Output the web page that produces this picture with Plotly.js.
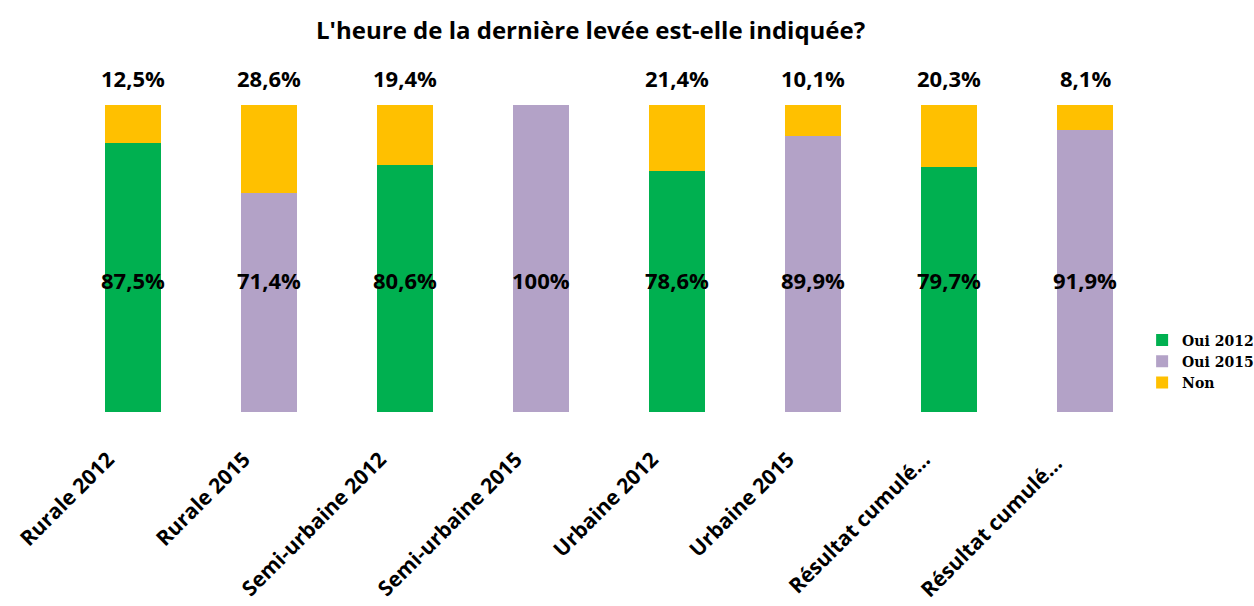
<!DOCTYPE html>
<html>
<head>
<meta charset="utf-8">
<script src="https://cdn.plot.ly/plotly-3.0.1.min.js"></script>
<style>html,body{margin:0;padding:0;background:#fff;}#chart{width:1254px;height:606px;}</style>
</head>
<body>
<div id="chart"></div>
<script>
const categories = ["Rurale 2012", "Rurale 2015", "Semi-urbaine 2012", "Semi-urbaine 2015", "Urbaine 2012", "Urbaine 2015", "Résultat cumulé…", "Résultat cumulé… "];
const oui2012 = [87.5, null, 80.6, null, 78.6, null, 79.7, null];
const oui2015 = [null, 71.4, null, 100, null, 89.9, null, 91.9];
const non = [12.5, 28.6, 19.4, 0, 21.4, 10.1, 20.3, 8.1];

const fmt = v => (v === 100 ? "100" : v.toFixed(1).replace(".", ",")) + "%";
const lblFont = {family: "Open Sans, sans-serif", size: 22, color: "#000"};

const traces = [
  {type: "bar", name: "Oui 2012", x: categories, y: oui2012, marker: {color: "#00B050"}, hoverinfo: "skip"},
  {type: "bar", name: "Oui 2015", x: categories, y: oui2015, marker: {color: "#B3A2C7"}, hoverinfo: "skip"},
  {type: "bar", name: "Non", x: categories, y: non, marker: {color: "#FFC000"}, hoverinfo: "skip"}
];

const annotations = [];
categories.forEach((c, i) => {
  const yes = oui2012[i] !== null ? oui2012[i] : oui2015[i];
  annotations.push({x: c, y: 43, xref: "x", yref: "y", text: "<b>" + fmt(yes) + "</b>", showarrow: false, font: lblFont});
  if (non[i] > 0) {
    annotations.push({x: c, y: 100, xref: "x", yref: "y", yshift: 27, text: "<b>" + fmt(non[i]) + "</b>", showarrow: false, font: lblFont});
  }
});

const layout = {
  width: 1254, height: 606,
  paper_bgcolor: "#fff", plot_bgcolor: "#fff",
  margin: {l: 65, r: 101, t: 105, b: 194, autoexpand: false},
  title: {text: "<b>L'heure de la dernière levée est-elle indiquée?</b>", x: 0.471, xref: "container", xanchor: "center", y: 0.95, yanchor: "middle",
          font: {family: "Open Sans, sans-serif", size: 24, color: "#000"}},
  barmode: "stack",
  bargap: 0.595,
  showlegend: true,
  legend: {x: 0.99, xanchor: "left", y: 0.285, yanchor: "top", tracegroupgap: 0, traceorder: "normal",
           font: {family: "DejaVu Serif, serif", size: 14, color: "#000", weight: 700}, itemwidth: 30},
  xaxis: {type: "category", tickangle: -45, showline: false, showgrid: false, zeroline: false, ticks: "",
          ticklabelstandoff: 30, ticklabelshift: -25,
          tickfont: {family: "Open Sans, sans-serif", size: 21, color: "#000", weight: 700}},
  yaxis: {range: [0, 100], visible: false, showgrid: false, zeroline: false},
  annotations: annotations
};

Plotly.newPlot("chart", traces, layout, {displayModeBar: false, staticPlot: true});
</script>
</body>
</html>
